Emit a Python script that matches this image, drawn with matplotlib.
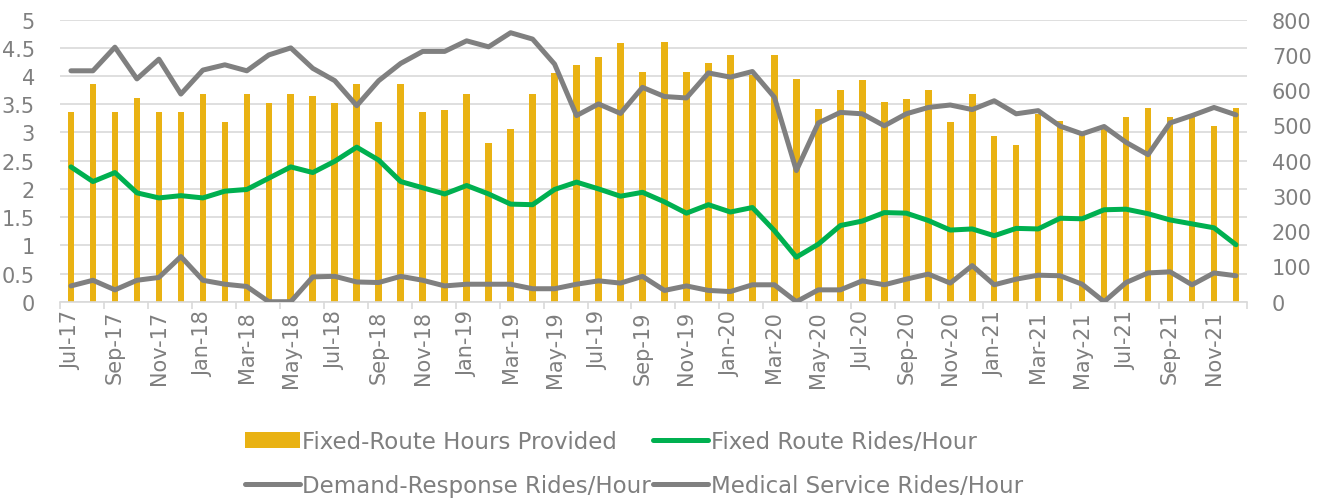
import numpy as np
import matplotlib.pyplot as plt
from matplotlib.ticker import FixedLocator, FuncFormatter

# months Jul-17 .. Dec-21
months = ['Jul-17', 'Aug-17', 'Sep-17', 'Oct-17', 'Nov-17', 'Dec-17',
          'Jan-18', 'Feb-18', 'Mar-18', 'Apr-18', 'May-18', 'Jun-18',
          'Jul-18', 'Aug-18', 'Sep-18', 'Oct-18', 'Nov-18', 'Dec-18',
          'Jan-19', 'Feb-19', 'Mar-19', 'Apr-19', 'May-19', 'Jun-19',
          'Jul-19', 'Aug-19', 'Sep-19', 'Oct-19', 'Nov-19', 'Dec-19',
          'Jan-20', 'Feb-20', 'Mar-20', 'Apr-20', 'May-20', 'Jun-20',
          'Jul-20', 'Aug-20', 'Sep-20', 'Oct-20', 'Nov-20', 'Dec-20',
          'Jan-21', 'Feb-21', 'Mar-21', 'Apr-21', 'May-21', 'Jun-21',
          'Jul-21', 'Aug-21', 'Sep-21', 'Oct-21', 'Nov-21', 'Dec-21']

hours_provided = [3.36, 3.86, 3.36, 3.62, 3.36, 3.36, 3.69, 3.19, 3.69, 3.53,
                  3.69, 3.65, 3.53, 3.86, 3.19, 3.86, 3.36, 3.39, 3.69, 2.81,
                  3.07, 3.69, 4.06, 4.20, 4.33, 4.59, 4.08, 4.60, 4.08, 4.24,
                  4.37, 4.02, 4.37, 3.95, 3.41, 3.75, 3.93, 3.54, 3.59, 3.75,
                  3.19, 3.69, 2.93, 2.78, 3.33, 3.21, 2.97, 3.06, 3.28, 3.43,
                  3.28, 3.27, 3.12, 3.43]

fixed_route_rph = [2.39, 2.13, 2.29, 1.93, 1.84, 1.88, 1.84, 1.96, 1.99, 2.19,
                   2.39, 2.29, 2.49, 2.74, 2.51, 2.13, 2.02, 1.91, 2.06, 1.91,
                   1.73, 1.72, 1.99, 2.12, 2.00, 1.87, 1.94, 1.77, 1.57, 1.72,
                   1.59, 1.67, 1.26, 0.79, 1.02, 1.35, 1.43, 1.58, 1.57, 1.44,
                   1.27, 1.29, 1.17, 1.30, 1.29, 1.48, 1.47, 1.63, 1.64, 1.56,
                   1.45, 1.38, 1.31, 1.01]

demand_response_rph = [655, 655, 722, 632, 688, 589, 657, 672, 655, 700,
                       720, 662, 627, 556, 627, 676, 710, 710, 740, 723,
                       763, 745, 674, 528, 561, 534, 608, 582, 578, 649,
                       637, 653, 580, 372, 507, 537, 533, 499, 533, 551,
                       558, 545, 570, 533, 542, 498, 476, 497, 452, 417,
                       507, 528, 551, 530]

medical_rph = [0.28, 0.38, 0.21, 0.38, 0.43, 0.80, 0.38, 0.31, 0.27, 0.0,
               0.0, 0.44, 0.45, 0.35, 0.34, 0.45, 0.38, 0.28, 0.31, 0.31,
               0.31, 0.23, 0.23, 0.31, 0.37, 0.33, 0.45, 0.20, 0.28, 0.20,
               0.18, 0.30, 0.30, 0.0, 0.21, 0.21, 0.37, 0.30, 0.40, 0.49,
               0.33, 0.64, 0.30, 0.40, 0.47, 0.46, 0.31, 0.0, 0.34, 0.51,
               0.53, 0.30, 0.51, 0.46]

gold = '#E9B213'
green = '#00B050'
grey = '#808080'
txt = '#7F7F7F'
gridc = '#D9D9D9'

plt.rcParams['font.family'] = ['DejaVu Sans']

fig = plt.figure(figsize=(13.27, 5.02), dpi=100)
ax = fig.add_axes([0.0452, 0.397, 0.8945, 0.5618])
ax2 = ax.twinx()

x = np.arange(len(months))

bars = ax.bar(x, hours_provided, width=0.3, color=gold, zorder=2,
              label='Fixed-Route Hours Provided')
l_green, = ax.plot(x, fixed_route_rph, color=green, lw=3.6, zorder=3,
                   solid_capstyle='round', label='Fixed Route Rides/Hour')
l_med, = ax.plot(x, medical_rph, color=grey, lw=3.6, zorder=3,
                 solid_capstyle='round', label='Medical Service Rides/Hour')
l_dr, = ax2.plot(x, demand_response_rph, color=grey, lw=3.6,
                 solid_capstyle='round', label='Demand-Response Rides/Hour')

ax.set_xlim(-0.5, len(months) - 0.5)
ax.set_ylim(0, 5)
ax2.set_ylim(0, 800)
ax.set_yticks(np.arange(0, 5.01, 0.5))
ax.yaxis.set_major_formatter(FuncFormatter(lambda v, p: f'{v:g}'))
ax2.set_yticks(np.arange(0, 801, 100))

ax.grid(axis='y', color=gridc, lw=1.2)
ax.set_axisbelow(True)

for a in (ax, ax2):
    for s in a.spines.values():
        s.set_visible(False)
ax.spines['bottom'].set_visible(True)
ax.spines['bottom'].set_color(gridc)
ax.spines['bottom'].set_linewidth(1.2)

ax.set_xticks(x[::2])
ax.set_xticklabels(months[::2], rotation=90, fontsize=15, color=txt)
ax.xaxis.set_minor_locator(FixedLocator(np.arange(-0.5, len(months), 2)))
ax.tick_params(axis='x', which='major', length=0, pad=6)
ax.tick_params(axis='x', which='minor', length=5, color=gridc, width=1.2)
ax.tick_params(axis='y', length=0, labelsize=15, labelcolor=txt, pad=18)
ax2.tick_params(axis='y', length=0, labelsize=15, labelcolor=txt, pad=18)

handles = [bars, l_dr, l_green, l_med]
leg = fig.legend(handles=handles, labels=[h.get_label() for h in handles],
                 ncol=2, loc='upper left', bbox_to_anchor=(0.1846, 0.141),
                 frameon=False, fontsize=16.5, handlelength=2.4,
                 handletextpad=0.1, columnspacing=0.1, labelspacing=0.9,
                 borderpad=0, borderaxespad=0)
for t in leg.get_texts():
    t.set_color(txt)

fig.savefig('out.png', dpi=100)
